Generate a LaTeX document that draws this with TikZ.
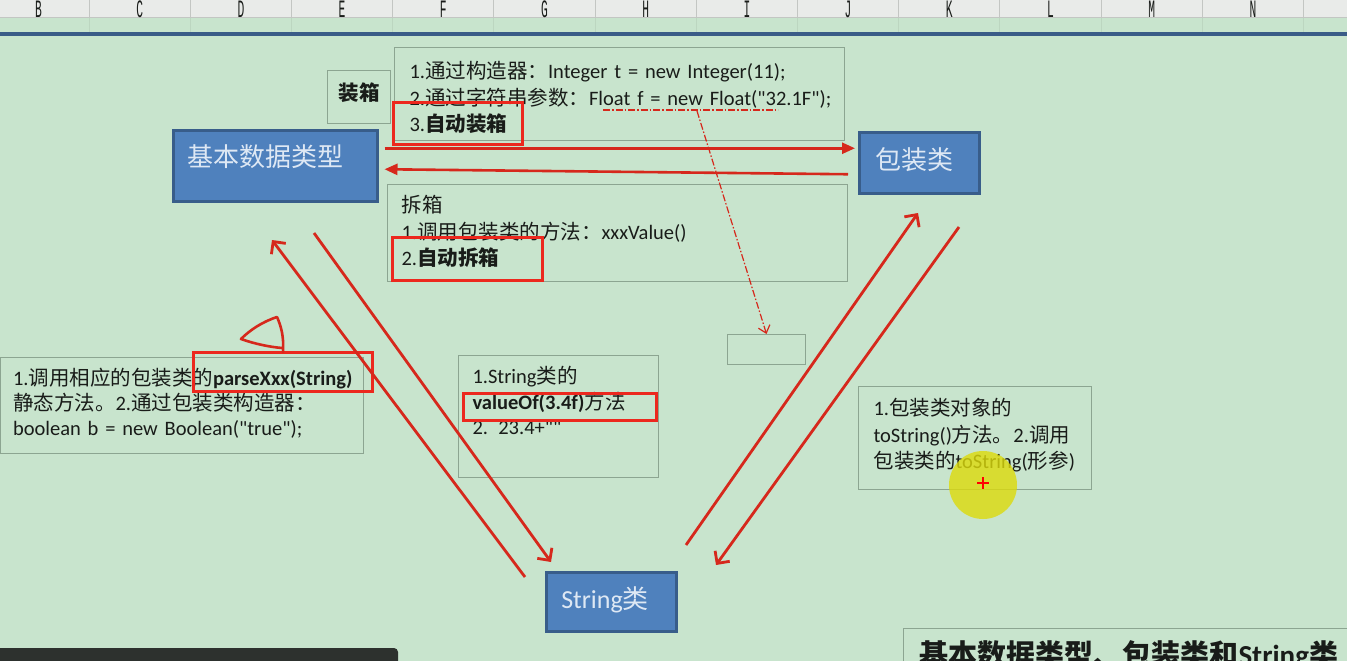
\documentclass[tikz,border=0pt]{standalone}
\usepackage{fontspec}
\setmainfont{Carlito}[Ligatures=TeXOff]
\newfontfamily\cjk{Noto Sans CJK SC}
\newfontfamily\hdrfont{Liberation Mono}
\usepackage{tikz}
\usetikzlibrary{arrows.meta,calc}

\newcommand{\zh}[1]{{\cjk #1}}

\definecolor{sheetbg}{RGB}{200,228,205}
\definecolor{hdrbg}{RGB}{233,235,233}
\definecolor{hdrline}{RGB}{195,198,195}
\definecolor{gridgreen}{RGB}{188,214,192}
\definecolor{boxline}{RGB}{140,165,145}
\definecolor{ink}{RGB}{25,28,25}
\definecolor{redhl}{RGB}{236,40,30}
\definecolor{redarrow}{RGB}{214,40,28}
\definecolor{bluefill}{RGB}{79,129,189}
\definecolor{blueline}{RGB}{56,93,138}
\definecolor{bluetext}{RGB}{222,232,244}
\definecolor{rulecol}{RGB}{58,92,135}
\definecolor{darkbar}{RGB}{45,49,46}
\definecolor{cursor}{RGB}{220,218,10}

\begin{document}
\begin{tikzpicture}[
		x=1pt,y=-1pt,
		>=Latex,
		colhead/.style={
			font=\hdrfont\fontsize{25}{25}\selectfont,
			text=ink,
			inner sep=0pt
		},
		textbox/.style={
			draw=boxline,
			line width=1pt,
			anchor=north west,
			align=left,
			inner ysep=0pt,
			text=ink,
			font=\fontsize{20.5}{26.5}\selectfont
		},
		typebox/.style={
			draw=blueline,
			fill=bluefill,
			line width=2.5pt,
			anchor=north west,
			align=left,
			inner ysep=0pt,
			text=bluetext,
			font=\fontsize{26}{30}\selectfont
		},
		hilite/.style={
			draw=redhl,
			line width=3pt,
			anchor=north west,
			inner sep=0pt
		},
		fwd/.style={
			-{Triangle[length=13pt,width=11pt]},
			draw=redarrow,
			line width=2.6pt
		},
		diag/.style={
			-{Straight Barb[length=9pt,width=18pt]},
			draw=redarrow,
			line width=2.8pt
		},
		pointer/.style={
			draw=redarrow,
			line width=1.2pt,
			dash pattern=on 7pt off 2pt on 1.5pt off 2pt
		}
	]
	
	\useasboundingbox (0,0) rectangle (1347,661);
	
	%=====================================================================
	% Sheet background
	%=====================================================================
	
	\fill[sheetbg] (0,0) rectangle (1347,661);
	\fill[hdrbg] (0,0) rectangle (1347,18);
	\draw[hdrline, line width=1pt] (0,18) -- (1347,18);
	
	\foreach \col [count=\i] in {B,C,D,E,F,G,H,I,J,K,L,M,N}{
		\pgfmathsetmacro{\cx}{38.5+(\i-1)*101.2}
		\node[colhead] (col-\col) at (\cx,9.5) {\scalebox{0.45}[1]{\col}};
		\draw[hdrline, line width=1pt] (\cx+50.5,0) -- (\cx+50.5,18);
		\draw[gridgreen, line width=0.8pt] (\cx+50.5,18) -- (\cx+50.5,32);
	}
	
	\fill[rulecol] (0,32) rectangle (1347,36.5);
	
	%=====================================================================
	% Type nodes
	%=====================================================================
	
	\node[typebox, text width=176pt, inner xsep=14pt,
	text height=36pt, text depth=35pt] (basic) at (172,129)
	{\zh{基本数据类型}};
	
	\node[typebox, text width=88pt, inner xsep=16pt,
	text height=37pt, text depth=24pt] (wrap) at (858,131)
	{\zh{包装类}};
	
	\node[typebox, text width=100pt, inner xsep=15pt,
	text height=36pt, text depth=23pt] (strcls) at (545,571)
	{String\zh{类}};
	
	%=====================================================================
	% Conversion notes
	%=====================================================================
	
	\node[textbox, text width=63pt, inner xsep=0pt, align=center,
	text height=30pt, text depth=23pt] (boxlabel) at (327,70)
	{\textbf{\zh{装箱}}};
	
	\node[textbox, text width=420pt, inner xsep=15pt,
	text height=31pt, text depth=62pt] (boxing) at (394,47)
	{\mbox{1.\zh{通过构造器：}Integer t = new Integer(11);}\\
		\mbox{2.\zh{通过字符串参数：}Float f = new Float("32.1F");}\\
		3.\textbf{\zh{自动装箱}}};
	
	\node[textbox, text width=432pt, inner xsep=14pt,
	text height=28pt, text depth=69pt] (unboxing) at (387,184)
	{\zh{拆箱}\\
		1.\zh{调用包装类的方法：}xxxValue()\\
		2.\textbf{\zh{自动拆箱}}};
	
	\node[textbox, text width=337pt, inner xsep=13pt,
	text height=28pt, text depth=68pt,
	font=\fontsize{20.5}{25}\selectfont] (parsebox) at (-0.5,357)
	{\mbox{1.\zh{调用相应的包装类的}\textbf{parseXxx(String)}}\\
		\zh{静态方法。}2.\zh{通过包装类构造器：}\\
		\mbox{boolean b = new Boolean("true");}};
	
	\node[textbox, text width=172pt, inner xsep=14pt,
	text height=28pt, text depth=94pt,
	font=\fontsize{20.5}{25.5}\selectfont] (valuebox) at (458,355)
	{1.String\zh{类的}\\
		\textbf{valueOf(3.4f)}\zh{方法}\\
		2. 23.4+""};
	
	\node[textbox, text width=203pt, inner xsep=15pt,
	text height=29pt, text depth=74pt] (tostrbox) at (858,386)
	{1.\zh{包装类对象的}\\
		\mbox{toString()\zh{方法。}2.\zh{调用}}\\
		\mbox{\zh{包装类的}toString(\zh{形参})}};
	
	\node[textbox, minimum width=78pt, minimum height=30pt,
	inner sep=0pt] (target) at (727,334) {};
	
	\node[textbox, text width=440pt, inner xsep=16pt,
	text height=37pt, text depth=20pt,
	font=\fontsize{29}{32}\selectfont] (summary) at (903,628)
	{\textbf{\zh{基本数据类型、包装类和}String\zh{类}}};
	
	%=====================================================================
	% Highlights
	%=====================================================================
	
	\node[hilite, minimum width=129pt, minimum height=42pt] (hl-autobox) at (392,101) {};
	\node[hilite, minimum width=150pt, minimum height=43pt] (hl-autounbox) at (391,236) {};
	\node[hilite, minimum width=179pt, minimum height=39pt] (hl-parse) at (192,351) {};
	\node[hilite, minimum width=193pt, minimum height=27pt] (hl-valueof) at (462,392) {};
	
	%=====================================================================
	% Conversion arrows
	%=====================================================================
	
	\draw[fwd]
	([xshift=6pt,yshift=17.5pt]basic.east)
	--
	([xshift=-3pt,yshift=17.5pt]basic.east -| wrap.west);
	
	\draw[fwd]
	([xshift=-10pt,yshift=-11.5pt]wrap.west)
	--
	([xshift=6pt,yshift=-3.5pt]basic.east);
	
	\coordinate (s2b-tail) at (525,577);
	\coordinate (s2b-head) at (272,240);
	\coordinate (b2s-tail) at (314,233);
	\coordinate (b2s-head) at (551,562);
	\coordinate (s2w-tail) at (686,545);
	\coordinate (s2w-head) at (918,213);
	\coordinate (w2s-tail) at (959,227);
	\coordinate (w2s-head) at (716,565);
	
	\draw[diag] (s2b-tail) -- (s2b-head);
	\draw[diag] (b2s-tail) -- (b2s-head);
	\draw[diag] (s2w-tail) -- (s2w-head);
	\draw[diag] (w2s-tail) -- (w2s-head);
	
	%=====================================================================
	% Pen marks
	%=====================================================================
	
	\coordinate (ul-start) at (603,110);
	\coordinate (ul-end) at (778,110);
	\coordinate (ul-mid) at (697,111);
	
	\draw[pointer] (ul-start) -- (ul-end);
	\draw[pointer, -{Straight Barb[length=7pt,width=12pt]}]
	(ul-mid) -- (target.north);
	
	\draw[redarrow, line width=2.6pt, line cap=round, line join=round]
	(283,352) .. controls (284,336) and (281,326) .. (277,317)
	.. controls (262,322) and (250,330) .. (241,339)
	.. controls (255,344) and (270,347) .. (282,348);
	
	%=====================================================================
	% Screen overlays
	%=====================================================================
	
	\fill[cursor, opacity=0.8] (983,485) circle (34);
	\draw[red, line width=2pt] (977,483) -- (989,483) (983,477) -- (983,489);
	
	\fill[darkbar, rounded corners=4pt]
	(-10,680) -- (-10,648) -- (398,648) -- (398,680) -- cycle;
	
\end{tikzpicture}
\end{document}
